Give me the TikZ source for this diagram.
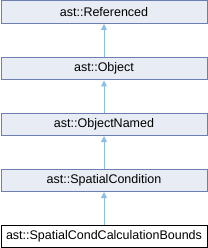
\documentclass[tikz,border=0pt]{standalone}
\usepackage{fontspec}
\setmainfont{Liberation Sans}
\usetikzlibrary{arrows.meta}
\definecolor{boxfill}{HTML}{E8ECF4}
\definecolor{boxdraw}{HTML}{6C7FB0}
\definecolor{edgecol}{HTML}{8DBFE3}
\begin{document}
\begin{tikzpicture}[x=1pt,y=-1pt,
  cls/.style={draw=boxdraw,fill=boxfill,line width=1pt,minimum width=206pt,minimum height=22.5pt,inner sep=0pt,anchor=north west,font=\fontsize{12.5}{15}\selectfont},
  cur/.style={cls,draw=black,fill=white},
  inh/.style={draw=edgecol,line width=1pt,-{Triangle[width=6pt,length=6pt]}}]
\useasboundingbox (0,0) rectangle (207,248);
\node[cls] (r) at (0.5,0.5) {ast::Referenced};
\node[cls] (o) at (0.5,57) {ast::Object};
\node[cls] (n) at (0.5,112.5) {ast::ObjectNamed};
\node[cls] (s) at (0.5,168.5) {ast::SpatialCondition};
\node[cur] (b) at (0.5,224.5) {ast::SpatialCondCalculationBounds};
\draw[inh] (o.north) -- (r.south);
\draw[inh] (n.north) -- (o.south);
\draw[inh] (s.north) -- (n.south);
\draw[inh] (b.north) -- (s.south);
\end{tikzpicture}
\end{document}
